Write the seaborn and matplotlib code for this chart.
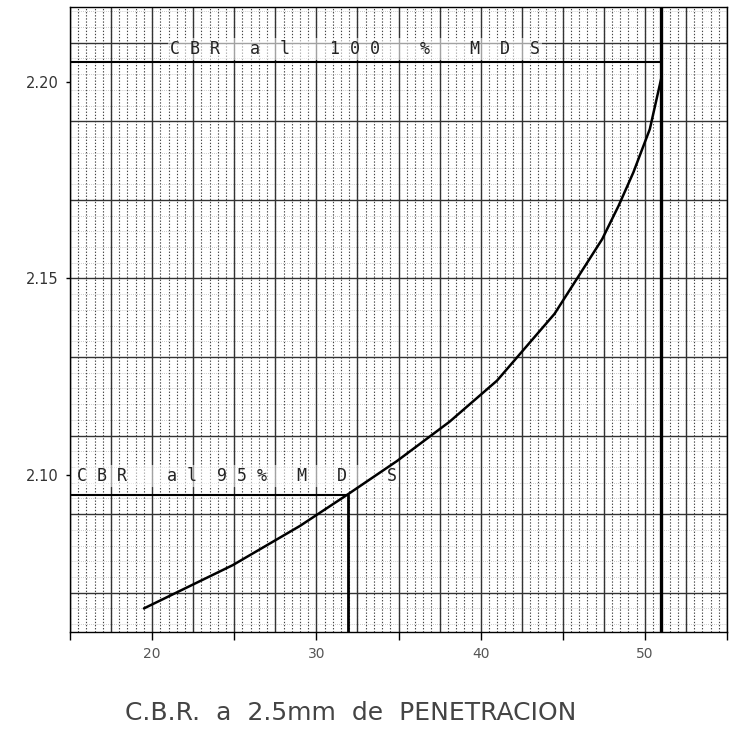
import numpy as np
import pandas as pd
import seaborn as sns
import matplotlib.pyplot as plt

# Compaction curve: CBR at 2.5 mm penetration vs dry density
cbr = [19.5, 24.9, 29.0, 31.9, 34.9, 38.1, 41.0, 44.5, 47.4, 48.4, 49.3,
       50.3, 51.0, 51.0]
density = [2.066, 2.077, 2.087, 2.095, 2.1035, 2.1135, 2.124, 2.141, 2.160,
           2.1685, 2.177, 2.188, 2.201, 2.205]

# Reference levels (maximum dry density and 95 %)
mds_100 = 2.205
mds_95 = 2.095
cbr_at_100 = 51.0
cbr_at_95 = 31.9

x_ticks = [15, 20, 25, 30, 35, 40, 45, 50, 55]
x_tick_labels = ["", "20", "", "30", "", "40", "", "50", ""]
y_ticks = [2.10, 2.15, 2.20]
y_tick_labels = ["2.10", "2.15", "2.20"]

# lettering-guide style labels (monospaced, letter-spaced)
label_100 = "C B R   a  l    1 0 0    %    M  D  S"
label_95 = "C B R    a l  9 5 %   M   D    S"
x_title = "C.B.R.  a  2.5mm  de  PENETRACION"

sns.set_theme(style="white")
plt.rcParams["font.family"] = ["DejaVu Sans"]

df = pd.DataFrame({"cbr": cbr, "density": density})

fig = plt.figure(figsize=(7.33, 7.31), dpi=100)
ax = fig.add_axes([70 / 733, 1 - 632 / 731, 657 / 733, 625 / 731])
xmin, xmax = 15.0, 55.0
ymin, ymax = 2.0600, 2.2191
ax.set_xlim(xmin, xmax)
ax.set_ylim(ymin, ymax)

# graph-paper grid
for xv in np.arange(xmin, xmax + 0.01, 0.5):
    ax.axvline(xv, color="#444444", lw=0.8, ls=(0, (1.2, 1.6)), zorder=0)
for xv in np.arange(xmin, xmax + 0.01, 2.5):
    ax.axvline(xv, color="#333333", lw=1.0, zorder=0.5)
for yv in np.arange(2.062, ymax, 0.004):
    ax.axhline(yv, color="#9a9a9a", lw=0.5, ls=(0, (1, 2)), zorder=0)
for yv in np.arange(2.07, ymax, 0.02):
    ax.axhline(yv, color="#333333", lw=1.0, zorder=0.5)

# lettering sits on the paper, under the drawn lines
box = dict(facecolor="white", edgecolor="none", alpha=0.55, pad=1.5)
ax.text(21.1, 2.2084, label_100, fontsize=12, family="DejaVu Sans Mono",
        color="#222222", ha="left", va="center", bbox=box, zorder=2)
ax.text(15.45, 2.0997, label_95, fontsize=12, family="DejaVu Sans Mono",
        color="#222222", ha="left", va="center", bbox=box, zorder=2)

sns.lineplot(data=df, x="cbr", y="density", sort=False, estimator=None,
             color="black", linewidth=1.8, ax=ax, zorder=3)

# 100 % and 95 % construction lines
ax.plot([xmin, cbr_at_100], [mds_100, mds_100], color="black", lw=1.5, zorder=3)
ax.plot([cbr_at_100, cbr_at_100], [ymin, ymax], color="black", lw=2.4, zorder=3)
ax.plot([xmin, cbr_at_95], [mds_95, mds_95], color="black", lw=1.5, zorder=3)
ax.plot([cbr_at_95, cbr_at_95], [ymin, mds_95], color="black", lw=2.0, zorder=3)

ax.set_xticks(x_ticks)
ax.set_xticklabels(x_tick_labels)
ax.set_yticks(y_ticks)
ax.set_yticklabels(y_tick_labels)
ax.tick_params(axis="x", direction="out", length=6, width=1, color="black",
               labelsize=10, labelcolor="#555555", pad=5, bottom=True)
ax.tick_params(axis="y", direction="out", length=3, width=1, color="black",
               labelsize=10.5, labelcolor="#333333", pad=5, left=True)
ax.set_xlabel("")
ax.set_ylabel("")
for s in ax.spines.values():
    s.set_color("black")
    s.set_linewidth(1.0)
    s.set_visible(True)

fig.text(351 / 733, 1 - 713 / 731, x_title, fontsize=18, color="#444444",
         ha="center", va="center")

fig.savefig("out.png", dpi=100, facecolor="white")
